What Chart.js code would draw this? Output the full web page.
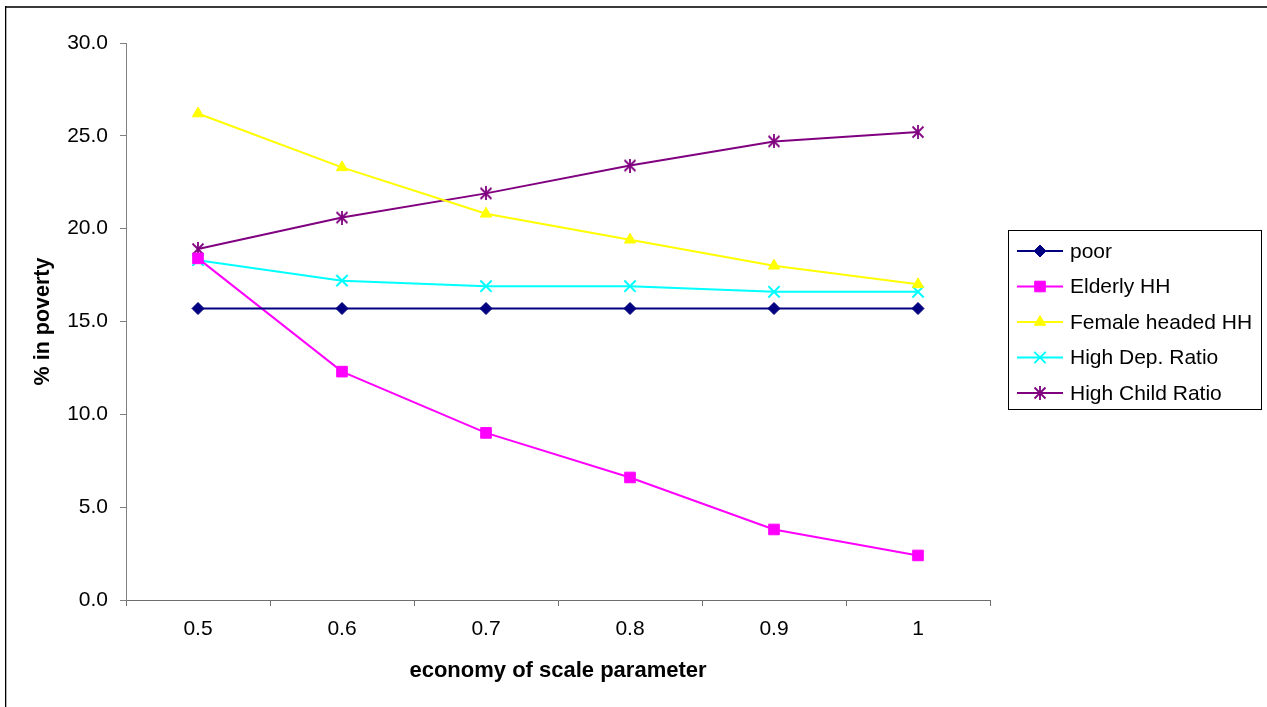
<!DOCTYPE html>
<html>
<head>
<meta charset="utf-8">
<title>% in poverty by economy of scale parameter</title>
<script src="https://cdn.jsdelivr.net/npm/chart.js@4/dist/chart.umd.min.js"></script>
<style>
  html, body { margin: 0; padding: 0; background: #ffffff; }
  #wrap { position: absolute; left: 0; top: 0; width: 1267px; height: 707px; }
</style>
</head>
<body>
<div id="wrap"><canvas id="c" width="1267" height="707"></canvas></div>
<script>
// Economy of scale parameter values (x categories)
const categories = ['0.5', '0.6', '0.7', '0.8', '0.9', '1'];

// % of each group in poverty
const poor = [15.7, 15.7, 15.7, 15.7, 15.7, 15.7];
const elderlyHH = [18.4, 12.3, 9.0, 6.6, 3.8, 2.4];
const femaleHeadedHH = [26.2, 23.3, 20.8, 19.4, 18.0, 17.0];
const highDepRatio = [18.3, 17.2, 16.9, 16.9, 16.6, 16.6];
const highChildRatio = [18.9, 20.6, 21.9, 23.4, 24.7, 25.2];

const seriesNames = ['poor', 'Elderly HH', 'Female headed HH', 'High Dep. Ratio', 'High Child Ratio'];

const FONT = '"Liberation Sans", Arial, Helvetica, sans-serif';

// Asterisk marker: an X crossed by a vertical stroke
function asteriskMarker(color) {
  const s = 14;
  const cv = document.createElement('canvas');
  cv.width = s; cv.height = s;
  const g = cv.getContext('2d');
  g.strokeStyle = color;
  g.lineWidth = 1.8;
  g.beginPath();
  g.moveTo(1.5, 1.5); g.lineTo(12.5, 12.5);
  g.moveTo(12.5, 1.5); g.lineTo(1.5, 12.5);
  g.moveTo(7, 0); g.lineTo(7, 14);
  g.stroke();
  return cv;
}

function series(label, data, color, style, radius) {
  return {
    label: label,
    data: data,
    borderColor: color,
    backgroundColor: color,
    pointBackgroundColor: color,
    pointBorderColor: color,
    borderWidth: 2,
    pointStyle: style,
    pointRadius: radius,
    pointHoverRadius: radius,
    pointBorderWidth: (style === 'crossRot') ? 2 : 1,
    tension: 0,
    fill: false
  };
}

const datasets = [
  series(seriesNames[0], poor, '#000080', 'rectRot', 6),
  series(seriesNames[1], elderlyHH, '#FF00FF', 'rect', 7.5),
  series(seriesNames[2], femaleHeadedHH, '#FFFF00', 'triangle', 6.5),
  series(seriesNames[3], highDepRatio, '#00FFFF', 'crossRot', 8),
  series(seriesNames[4], highChildRatio, '#800080', asteriskMarker('#800080'), 7)
];

// Outer frame of the chart object
const framePlugin = {
  id: 'frame',
  beforeDraw(chart) {
    const ctx = chart.ctx;
    ctx.save();
    ctx.fillStyle = '#ffffff';
    ctx.fillRect(0, 0, chart.width, chart.height);
    ctx.fillStyle = '#3a3a3a';
    ctx.fillRect(5, 6, chart.width - 5, 2);
    ctx.fillStyle = '#000000';
    ctx.fillRect(5, 6, 1.3, chart.height - 6);
    ctx.restore();
  }
};

// Boxed legend to the right of the plot area
const boxLegendPlugin = {
  id: 'boxLegend',
  afterDraw(chart) {
    const ctx = chart.ctx;
    const box = { x: 1008.5, y: 230.5, w: 253, h: 179 };
    const rowY = [251, 286.5, 322, 357.5, 393];
    ctx.save();
    ctx.strokeStyle = '#000000';
    ctx.lineWidth = 1;
    ctx.strokeRect(box.x, box.y, box.w, box.h);
    ctx.font = '21px ' + FONT;
    ctx.textAlign = 'left';
    ctx.textBaseline = 'middle';
    chart.data.datasets.forEach((ds, i) => {
      const y = rowY[i];
      ctx.strokeStyle = ds.borderColor;
      ctx.lineWidth = 2;
      ctx.beginPath();
      ctx.moveTo(1017, y);
      ctx.lineTo(1063, y);
      ctx.stroke();
      ctx.fillStyle = ds.pointBackgroundColor;
      ctx.strokeStyle = ds.pointBorderColor;
      ctx.lineWidth = ds.pointBorderWidth;
      if (Chart.helpers && Chart.helpers.drawPoint) {
        Chart.helpers.drawPoint(ctx, {
          pointStyle: ds.pointStyle,
          radius: ds.pointRadius,
          rotation: 0,
          borderWidth: ds.pointBorderWidth
        }, 1040, y);
      }
      ctx.fillStyle = '#000000';
      ctx.fillText(ds.label, 1070, y + 1);
    });
    ctx.restore();
  }
};

new Chart(document.getElementById('c'), {
  type: 'line',
  data: { labels: categories, datasets: datasets },
  plugins: [framePlugin, boxLegendPlugin],
  options: {
    responsive: false,
    animation: false,
    devicePixelRatio: 1,
    layout: { padding: { left: 0, top: 43, right: 277, bottom: 0 } },
    plugins: {
      legend: { display: false },
      tooltip: { enabled: false },
      title: { display: false }
    },
    scales: {
      x: {
        type: 'category',
        offset: true,
        afterFit(scale) { scale.height = 107; },
        grid: {
          offset: true,
          drawOnChartArea: false,
          drawTicks: true,
          tickLength: 6,
          color: '#6e6e6e'
        },
        border: { color: '#6e6e6e', width: 1 },
        ticks: {
          color: '#000000',
          padding: 11,
          maxRotation: 0,
          font: { family: FONT, size: 21 }
        },
        title: {
          display: true,
          text: 'economy of scale parameter',
          color: '#000000',
          padding: { top: 0, bottom: 23 },
          font: { family: FONT, size: 22, weight: 'bold' }
        }
      },
      y: {
        min: 0,
        max: 30,
        afterFit(scale) { scale.width = 126; },
        grid: {
          drawOnChartArea: false,
          drawTicks: true,
          tickLength: 6,
          color: '#808080'
        },
        border: { color: '#808080', width: 1 },
        ticks: {
          stepSize: 5,
          color: '#000000',
          padding: 12,
          font: { family: FONT, size: 21 },
          callback: (v) => Number(v).toFixed(1)
        },
        title: {
          display: true,
          text: '% in poverty',
          color: '#000000',
          padding: { top: 30, bottom: 0 },
          font: { family: FONT, size: 21.5, weight: 'bold' }
        }
      }
    }
  }
});
</script>
</body>
</html>
